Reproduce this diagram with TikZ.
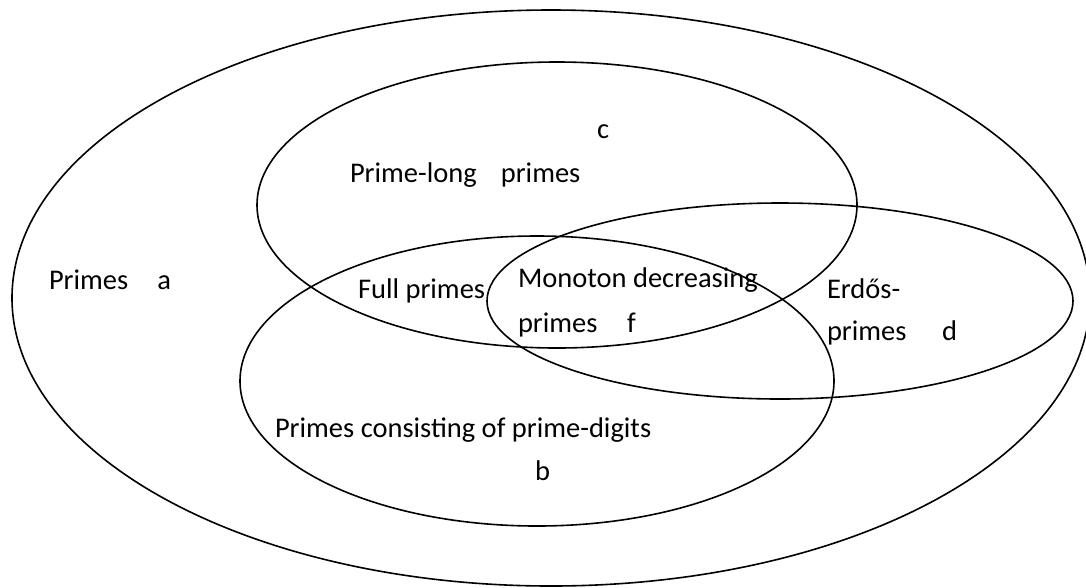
\documentclass[tikz,border=0pt]{standalone}
\usepackage{fontspec}
\setmainfont{Carlito}
\begin{document}
\begin{tikzpicture}[x=1pt,y=-1pt,
  set/.style={line width=1.6pt,black},
  lbl/.style={anchor=base west,inner sep=0pt,outer sep=0pt,font=\fontsize{28.5pt}{34pt}\selectfont}]
\useasboundingbox (0,0) rectangle (1086,587);
% sets
\draw[set] (551,298) ellipse [x radius=539pt, y radius=288pt];
\draw[set] (557,205) ellipse [x radius=300pt, y radius=143pt];
\draw[set] (537,381) ellipse [x radius=297pt, y radius=145pt];
\draw[set] (780,301) ellipse [x radius=293pt, y radius=98pt];
% labels
\node[lbl] (a) at (49,289) {Primes\hspace{29pt}a};
\node[lbl] (c) at (597,138) {c};
\node[lbl] (pl) at (350,182) {Prime-long\hspace{24pt}primes};
\node[lbl] (full) at (358,298) {Full primes};
\node[lbl] (mono) at (518,287) {Monoton decreasing};
\node[lbl] (f) at (518,332) {primes\hspace{29.5pt}f};
\node[lbl] (erd) at (827,298) {Erdős-};
\node[lbl] (d) at (827,340) {primes\hspace{35.5pt}d};
\node[lbl] (pd) at (275,437) {Primes consisting of prime-digits};
\node[lbl] (b) at (535,480) {b};
\end{tikzpicture}
\end{document}
